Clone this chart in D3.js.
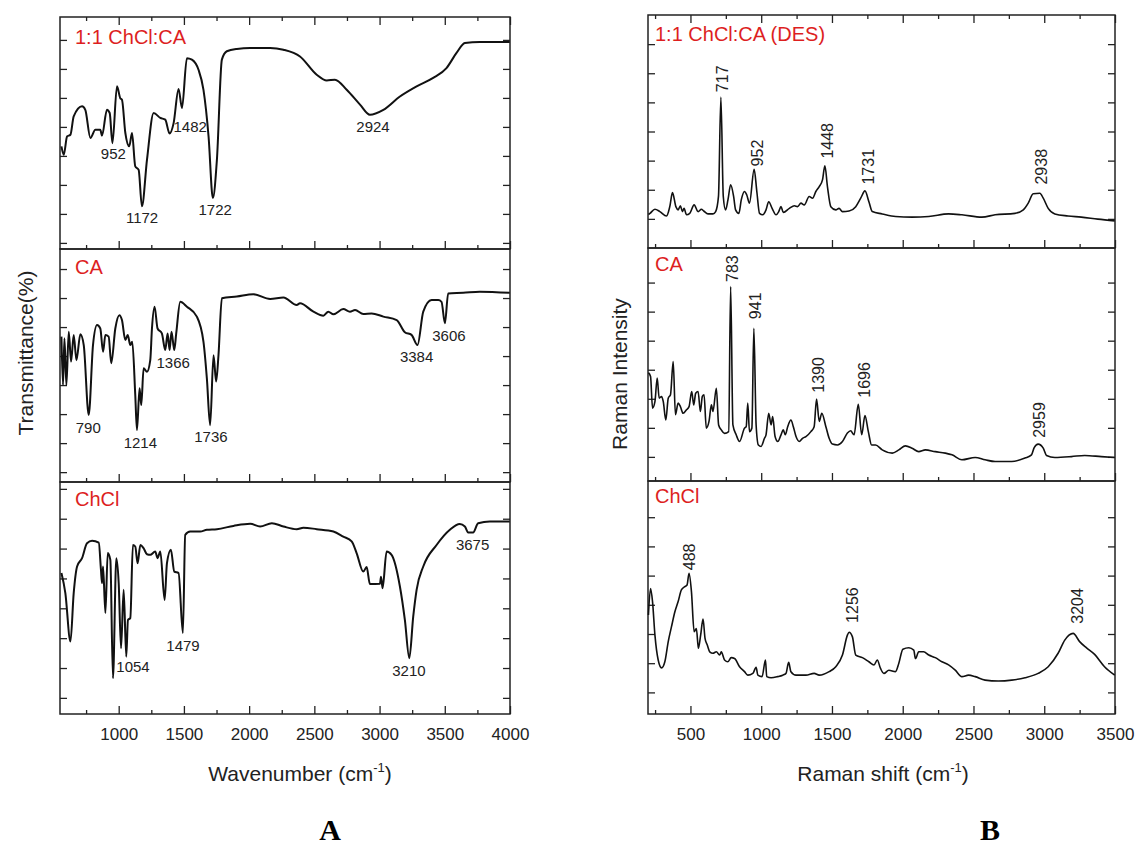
<!DOCTYPE html>
<html><head><meta charset="utf-8">
<script src="https://cdn.jsdelivr.net/npm/d3@7"></script>
<style>body{margin:0;background:#fff}text{font-family:"Liberation Sans",Arial,sans-serif}</style>
</head><body><svg id="c" width="1136" height="864"></svg>
<script>
// ---------- DATA ----------
// FTIR (panel A): [wavenumber, transmittance in tick units]
const ftirMix = [[561,3.33],[579,3.04],[604,3.67],[630,3.73],[655,4.36],[719,4.71],[744,4.59],[783,3.62],[821,3.90],[859,3.90],[872,3.70],[910,4.59],[931,4.48],[952,3.44],[987,5.40],[1012,4.99],[1025,4.94],[1051,3.79],[1081,3.33],[1102,3.79],[1127,2.64],[1153,2.52],[1178,1.26],[1217,2.87],[1268,4.48],[1319,4.31],[1357,4.25],[1390,3.77],[1421,4.13],[1459,5.31],[1485,4.65],[1523,6.37],[1561,6.32],[1612,5.97],[1650,5.28],[1689,3.67],[1722,1.55],[1753,2.87],[1791,6.32],[1829,6.61],[1906,6.69],[2008,6.72],[2161,6.72],[2263,6.66],[2390,6.43],[2518,5.80],[2595,5.60],[2658,5.63],[2748,5.28],[2850,4.77],[2926,4.42],[3029,4.59],[3156,5.05],[3284,5.40],[3411,5.69],[3513,6.03],[3590,6.55],[3654,6.89],[3768,6.93],[3998,6.93]];
const ftirCA = [[561,4.67],[573,3.00],[584,4.61],[599,3.00],[617,4.84],[635,3.81],[655,4.73],[676,3.86],[706,4.75],[732,4.38],[770,1.97],[803,4.38],[834,5.07],[859,4.95],[880,4.15],[898,4.73],[923,4.67],[943,3.75],[974,4.95],[1005,5.41],[1025,5.24],[1051,4.55],[1069,4.73],[1089,4.38],[1104,4.49],[1127,2.66],[1140,1.45],[1160,2.89],[1173,2.31],[1191,3.58],[1217,3.46],[1242,3.86],[1255,4.95],[1275,5.70],[1298,4.95],[1331,4.78],[1357,4.21],[1375,4.78],[1390,4.21],[1405,4.84],[1426,4.21],[1441,4.78],[1472,5.87],[1523,5.70],[1599,5.36],[1650,4.49],[1676,3.23],[1701,1.62],[1727,4.03],[1747,3.12],[1765,4.03],[1791,5.99],[1906,6.05],[2033,6.13],[2161,5.97],[2263,6.02],[2365,5.76],[2390,5.82],[2493,5.53],[2569,5.39],[2607,5.53],[2646,5.44],[2722,5.62],[2773,5.53],[2812,5.59],[2875,5.45],[2939,5.47],[3029,5.36],[3131,5.24],[3194,4.82],[3245,4.73],[3291,4.38],[3335,5.53],[3399,5.93],[3450,5.93],[3475,5.87],[3501,5.13],[3526,6.16],[3641,6.18],[3768,6.22],[3998,6.18]];
const ftirChCl = [[561,4.18],[591,3.51],[630,1.89],[655,3.51],[681,4.40],[719,4.68],[757,5.18],[796,5.26],[847,5.20],[864,4.29],[872,3.84],[880,4.40],[898,2.84],[916,4.85],[936,4.62],[956,0.66],[982,4.68],[1000,3.84],[1018,1.66],[1038,3.62],[1058,1.38],[1071,2.61],[1089,2.67],[1109,5.12],[1127,5.07],[1145,4.51],[1166,5.12],[1191,5.01],[1217,4.81],[1242,4.79],[1280,4.90],[1298,4.68],[1319,4.90],[1352,3.28],[1370,4.51],[1400,4.96],[1426,4.23],[1459,4.18],[1492,2.17],[1510,5.46],[1548,5.57],[1625,5.57],[1676,5.63],[1753,5.65],[1880,5.76],[2008,5.83],[2084,5.74],[2174,5.85],[2263,5.74],[2365,5.65],[2416,5.70],[2518,5.65],[2646,5.57],[2722,5.40],[2786,5.24],[2824,4.85],[2875,4.23],[2901,4.38],[2926,3.81],[3003,3.82],[3011,4.06],[3023,3.67],[3054,4.90],[3092,4.79],[3156,3.73],[3194,2.61],[3228,1.33],[3258,2.72],[3284,3.62],[3335,4.40],[3437,5.12],[3539,5.63],[3615,5.82],[3654,5.74],[3679,5.54],[3717,5.54],[3756,5.85],[3845,5.91],[3998,5.91]];

// Raman (panel B): [Raman shift, intensity in tick units]
const ramanMix = [[203,1.15],[214,1.19],[249,1.33],[284,1.25],[331,1.10],[354,1.42],[373,1.90],[397,1.42],[413,1.31],[429,1.45],[443,1.25],[455,1.36],[472,1.14],[495,1.19],[526,1.48],[554,1.25],[577,1.33],[594,1.27],[624,1.17],[659,1.17],[678,1.25],[698,1.77],[715,5.18],[732,1.77],[748,1.31],[765,1.65],[784,2.17],[805,1.77],[819,1.31],[842,1.19],[859,1.65],[882,1.94],[898,1.82],[917,1.54],[950,2.70],[969,1.94],[988,1.19],[1011,1.14],[1034,1.31],[1053,1.59],[1077,1.36],[1105,1.14],[1124,1.25],[1140,1.42],[1156,1.22],[1199,1.36],[1234,1.45],[1257,1.42],[1281,1.54],[1304,1.48],[1339,1.77],[1363,1.71],[1386,1.94],[1410,2.11],[1433,2.34],[1450,2.82],[1468,2.11],[1492,1.42],[1527,1.31],[1550,1.36],[1574,1.25],[1621,1.27],[1668,1.42],[1703,1.71],[1733,1.96],[1761,1.59],[1785,1.25],[1855,1.17],[1949,1.08],[2066,1.06],[2184,1.08],[2324,1.17],[2418,1.14],[2559,1.06],[2653,1.14],[2793,1.19],[2852,1.31],[2887,1.54],[2922,1.86],[2969,1.88],[2993,1.71],[3028,1.36],[3075,1.17],[3168,1.10],[3262,1.06],[3379,0.99],[3498,0.93]];
const ramanCA = [[203,2.90],[218,2.77],[232,1.68],[249,1.90],[265,2.71],[279,2.02],[296,2.08],[308,1.90],[326,1.27],[343,2.02],[359,2.14],[378,3.28],[394,1.45],[413,1.85],[429,1.73],[448,1.50],[472,1.62],[490,1.73],[509,2.25],[523,1.79],[537,2.19],[554,2.25],[570,1.56],[584,2.08],[596,2.14],[612,0.99],[631,1.22],[648,1.79],[659,1.56],[683,2.36],[699,1.10],[718,0.93],[741,0.81],[770,0.87],[784,5.86],[800,1.10],[823,0.76],[847,0.53],[882,0.99],[894,1.04],[905,1.85],[917,0.87],[934,0.99],[948,4.43],[964,1.10],[980,0.41],[999,0.36],[1023,0.64],[1034,0.76],[1053,1.50],[1070,1.10],[1081,1.39],[1098,0.70],[1117,0.53],[1140,0.76],[1156,0.93],[1170,0.76],[1187,1.04],[1210,1.27],[1227,1.04],[1246,0.70],[1269,0.53],[1292,0.64],[1316,0.70],[1351,0.87],[1374,1.04],[1391,1.99],[1410,1.22],[1428,1.50],[1457,1.04],[1480,0.64],[1503,0.44],[1539,0.41],[1574,0.53],[1609,0.82],[1632,0.90],[1656,0.76],[1686,1.81],[1710,0.76],[1733,1.42],[1757,0.87],[1780,0.41],[1808,0.41],[1855,0.24],[1926,0.13],[1972,0.24],[2019,0.38],[2066,0.30],[2113,0.18],[2160,0.24],[2230,0.18],[2301,0.13],[2348,0.07],[2418,-0.10],[2512,-0.02],[2582,-0.10],[2653,-0.16],[2770,-0.16],[2864,-0.04],[2910,0.07],[2929,0.32],[2957,0.44],[2993,0.30],[3016,0.05],[3075,-0.02],[3192,0.01],[3286,0.05],[3403,0.01],[3497,-0.02]];
const ramanChCl = [[203,2.65],[218,3.56],[232,3.11],[249,1.96],[272,1.11],[296,0.84],[319,1.05],[343,1.74],[366,2.25],[390,2.76],[413,3.11],[436,3.51],[460,3.62],[476,3.68],[490,4.08],[507,3.45],[526,2.08],[542,2.19],[556,1.51],[572,1.96],[589,2.51],[603,1.85],[619,1.62],[636,1.39],[659,1.34],[683,1.39],[706,1.28],[718,1.39],[741,1.11],[765,1.05],[788,1.19],[812,1.16],[847,0.88],[882,0.71],[905,0.59],[941,0.65],[964,0.86],[976,0.59],[1006,0.54],[1030,1.11],[1039,0.54],[1070,0.50],[1117,0.54],[1152,0.59],[1175,0.65],[1194,1.03],[1210,0.71],[1246,0.59],[1316,0.59],[1374,0.65],[1410,0.59],[1480,0.71],[1527,0.88],[1574,1.28],[1609,1.96],[1621,2.06],[1644,1.91],[1668,1.28],[1715,1.19],[1761,1.05],[1797,0.94],[1820,1.11],[1843,0.82],[1867,0.65],[1902,0.76],[1949,0.71],[1972,0.99],[2001,1.48],[2043,1.53],[2078,1.45],[2090,1.16],[2113,1.39],[2148,1.39],[2184,1.28],[2230,1.19],[2277,1.05],[2324,0.94],[2371,0.76],[2418,0.54],[2465,0.59],[2512,0.54],[2582,0.42],[2676,0.39],[2770,0.42],[2864,0.50],[2957,0.65],[3028,0.88],[3098,1.34],[3145,1.79],[3204,2.02],[3250,1.74],[3297,1.53],[3356,1.30],[3426,0.88],[3498,0.59]];

// Peak annotations: [text, x-position, y-position] in data units
const ftirMixPeaks = [["952",959,3.08],["1172",1179,0.87],["1482",1548,4.02],["1722",1740,1.15],["2924",2950,4.02]];
const ftirCAPeaks = [["790",767,1.55],["1214",1166,1.03],["1366",1418,3.76],["1736",1707,1.21],["3384",3284,3.98],["3606",3532,4.72]];
const ftirChClPeaks = [["1054",1110,1.05],["1479",1493,1.75],["3210",3225,0.91],["3675",3713,5.12]];
const ramanMixPeaks = [["717",726,5.81],["952",970,3.26],["1448",1466,3.68],["1731",1758,2.79],["2938",2976,2.79]];
const ramanCAPeaks = [["783",793,6.48],["941",958,5.20],["1390",1400,2.82],["1696",1730,2.65],["2959",2968,1.27]];
const ramanChClPeaks = [["488",490,4.64],["1256",1645,2.99],["3204",3231,2.96]];

const sampleNamesA = ["1:1 ChCl:CA","CA","ChCl"];
const sampleNamesB = ["1:1 ChCl:CA (DES)","CA","ChCl"];

// Axis ticks
const ftirDomain = [550,4000];
const ftirMajor = [1000,1500,2000,2500,3000,3500,4000];
const ftirMinor = [750,1250,1750,2250,2750,3250,3750];
const ramanDomain = [200,3500];
const ramanMajor = [500,1000,1500,2000,2500,3000,3500];
const ramanMinor = [250,750,1250,1750,2250,2750,3250];
const ftirYDomains = [[-0.21,7.79],[-0.34,7.69],[-0.54,7.23]];
const ftirYTicks = [[0,1,2,3,4,5,6,7],[0,1,2,3,4,5,6,7],[0,1,2,3,4,5,6,7]];
const ramanYDomains = [[0,8],[-0.83,7.19],[-0.74,7.24]];
const ramanYTicks = [[1,2,3,4,5,6,7],[0,1,2,3,4,5,6],[0,1,2,3,4,5,6]];

// ---------- DRAW ----------
const svg = d3.select("#c");
const RED = "#dd1f1f";

function drawPanel(cfg) {
  const x = d3.scaleLinear().domain(cfg.domain).range([cfg.left, cfg.right]);
  const n = cfg.series.length;
  cfg.series.forEach((s, i) => {
    const top = cfg.bounds[i], bot = cfg.bounds[i+1];
    const y = d3.scaleLinear().domain(cfg.yDomains[i]).range([bot, top]);
    const g = svg.append("g");
    const yl = g.append("g").attr("transform", `translate(${cfg.left},0)`)
      .call(d3.axisLeft(y).tickValues(cfg.yTicks[i]).tickSize(-7).tickFormat(""));
    const yr = g.append("g").attr("transform", `translate(${cfg.right},0)`)
      .call(d3.axisRight(y).tickValues(cfg.yTicks[i]).tickSize(-7).tickFormat(""));
    const last = i === n - 1;
    const xb = g.append("g").attr("transform", `translate(0,${bot})`)
      .call(d3.axisBottom(x).tickValues(cfg.major).tickSize(-8).tickPadding(14)
        .tickFormat(last ? d3.format("d") : ""));
    const xbm = g.append("g").attr("transform", `translate(0,${bot})`)
      .call(d3.axisBottom(x).tickValues(cfg.minor).tickSize(-4).tickFormat(""));
    const axes = [yl, yr, xb, xbm];
    if (i === 0) {
      axes.push(g.append("g").attr("transform", `translate(0,${top})`)
        .call(d3.axisTop(x).tickValues(cfg.major).tickSize(-8).tickFormat("")));
      axes.push(g.append("g").attr("transform", `translate(0,${top})`)
        .call(d3.axisTop(x).tickValues(cfg.minor).tickSize(-4).tickFormat("")));
    }
    axes.forEach(a => {
      a.select(".domain").remove();
      a.selectAll(".tick line").attr("stroke", "#222").attr("stroke-width", 1.3);
      a.selectAll(".tick text").attr("font-size", 17).attr("fill", "#222");
    });
    g.append("rect").attr("x", cfg.left).attr("y", top)
      .attr("width", cfg.right - cfg.left).attr("height", bot - top)
      .attr("fill", "none").attr("stroke", "#222").attr("stroke-width", 1.5);
    const line = d3.line().x(d => x(d[0])).y(d => y(d[1])).curve(d3.curveMonotoneX);
    g.append("path").datum(s.data).attr("d", line)
      .attr("fill", "none").attr("stroke", "#111").attr("stroke-width", cfg.lw)
      .attr("stroke-linejoin", "round");
    g.append("text").attr("x", cfg.left + cfg.nameDx).attr("y", top + cfg.nameDy[i])
      .attr("fill", RED).attr("font-size", 20).text(s.name);
    s.peaks.forEach(p => {
      const t = g.append("text").attr("font-size", cfg.peakSize).attr("fill", "#222")
        .attr("text-anchor", "middle").attr("dy", "0.36em").text(p[0]);
      if (cfg.rotate) t.attr("transform", `translate(${x(p[1])},${y(p[2])}) rotate(-90)`);
      else t.attr("x", x(p[1])).attr("y", y(p[2]));
    });
  });
  const xt = svg.append("text").attr("x", cfg.titleX).attr("y", 781)
    .attr("text-anchor", "middle").attr("font-size", 21).attr("fill", "#222");
  xt.append("tspan").text(cfg.xTitle + " (cm");
  xt.append("tspan").attr("font-size", 13).attr("dy", -9).text("-1");
  xt.append("tspan").attr("dy", 9).text(")");
  svg.append("text").attr("transform", `translate(${cfg.yTitleX},${cfg.yTitleY}) rotate(-90)`)
    .attr("text-anchor", "middle").attr("font-size", 21).attr("fill", "#222").text(cfg.yTitle);
  svg.append("text").attr("x", cfg.letterX).attr("y", 840).attr("text-anchor", "middle")
    .style("font-family", '"Liberation Serif","Times New Roman",serif')
    .attr("font-weight", "bold").attr("font-size", 30).attr("fill", "#000").text(cfg.letter);
}

drawPanel({
  left: 60, right: 510, bounds: [17, 249, 482, 714],
  domain: ftirDomain, major: ftirMajor, minor: ftirMinor,
  yDomains: ftirYDomains, yTicks: ftirYTicks, lw: 2,
  series: [
    {name: sampleNamesA[0], data: ftirMix, peaks: ftirMixPeaks},
    {name: sampleNamesA[1], data: ftirCA, peaks: ftirCAPeaks},
    {name: sampleNamesA[2], data: ftirChCl, peaks: ftirChClPeaks}
  ],
  nameDx: 15, nameDy: [27, 25, 24], peakSize: 15, rotate: false,
  xTitle: "Wavenumber", titleX: 300, yTitle: "Transmittance(%)", yTitleX: 33, yTitleY: 353,
  letter: "A", letterX: 330
});
drawPanel({
  left: 648, right: 1115, bounds: [15, 248, 481, 714],
  domain: ramanDomain, major: ramanMajor, minor: ramanMinor,
  yDomains: ramanYDomains, yTicks: ramanYTicks, lw: 1.6,
  series: [
    {name: sampleNamesB[0], data: ramanMix, peaks: ramanMixPeaks},
    {name: sampleNamesB[1], data: ramanCA, peaks: ramanCAPeaks},
    {name: sampleNamesB[2], data: ramanChCl, peaks: ramanChClPeaks}
  ],
  nameDx: 7, nameDy: [26, 23, 22], peakSize: 16, rotate: true,
  xTitle: "Raman shift", titleX: 883, yTitle: "Raman Intensity", yTitleX: 627, yTitleY: 374,
  letter: "B", letterX: 990
});
</script></body></html>
